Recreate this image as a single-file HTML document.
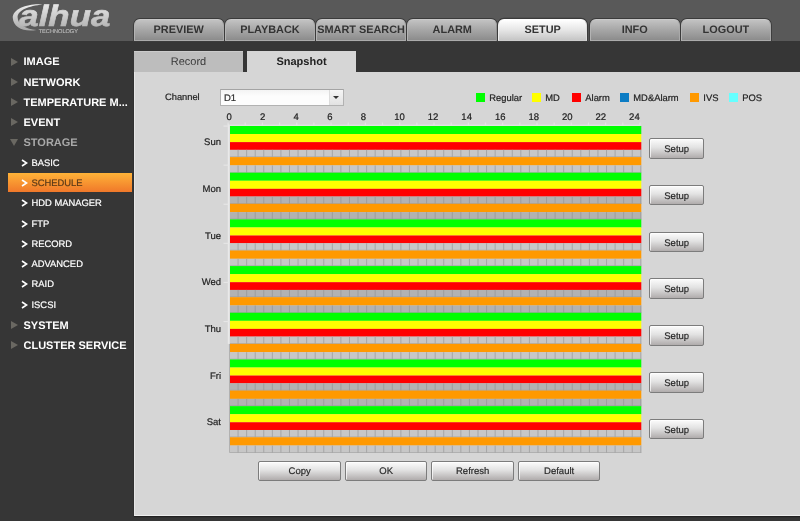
<!DOCTYPE html><html><head><meta charset="utf-8"><title>Schedule</title><style>
*{box-sizing:border-box;margin:0;padding:0}
html,body{width:800px;height:521px;overflow:hidden;background:#363636;font-family:"Liberation Sans",Arial,sans-serif;text-rendering:geometricPrecision}
.abs{position:absolute}
#hdr{position:absolute;left:0;top:0;width:800px;height:41px;background:#595959}
#side{position:absolute;left:0;top:41px;width:134px;height:480px;background:#363636}
#band{position:absolute;left:0;top:41px;width:800px;height:31px;background:#363636}
#content{position:absolute;left:134px;top:71.5px;width:666px;height:444px;background:#d6d6d6;border-bottom:1px solid #efefef;border-left:1px solid #e6e6e6;box-shadow:0 1px 1px #222}
.tab{position:absolute;top:18.6px;height:22.1px;width:90.2px;border-radius:6px 6px 0 0;background:linear-gradient(#c2c2c2,#a6a6a6 50%,#8c8c8c);border:1px solid #c9c9c9;border-left-color:#b4b4b4;border-right-color:#a9a9a9;border-bottom:1px solid #ababab;box-shadow:0 0 0 0.9px #3b3b3b;color:#333;font-weight:bold;font-size:10.9px;text-align:center;line-height:21.6px;white-space:nowrap}
.tab.sel{background:linear-gradient(#ffffff,#e6e6e6 50%,#c6c6c6);border-color:#fff;border-right-color:#ddd;border-left-color:#eee;border-bottom-color:#cdcdcd;width:88.6px;box-shadow:0 0 0 1.2px #3b3b3b}
.stab{position:absolute;top:51px;height:20.5px;font-size:11px;text-align:center;line-height:22.6px;color:#3a3a3a}
.mi{position:absolute;left:23.5px;color:#fff;font-weight:bold;font-size:11px;line-height:14px;white-space:nowrap}
.si{position:absolute;left:31.5px;color:#fff;font-size:9.4px;-webkit-text-stroke:0.2px;line-height:14px;white-space:nowrap}
.tri{position:absolute;left:11px;width:0;height:0;border-left:7px solid #6a6862;border-top:4.5px solid transparent;border-bottom:4.5px solid transparent}
.trid{position:absolute;left:10px;width:0;height:0;border-top:7px solid #6a6862;border-left:4.5px solid transparent;border-right:4.5px solid transparent}
.chev{position:absolute;left:21px;}
.btn{position:absolute;height:19.8px;border:1px solid #7c7c7c;border-radius:2px;background:linear-gradient(#fcfcfc,#e2e2e2 45%,#b0acac);font-size:9.5px;color:#2a2a2a;-webkit-text-stroke:0.2px;text-align:center;line-height:19.2px;box-shadow:inset 1px 1px 0 rgba(255,255,255,.7)}
.lbl{position:absolute;font-size:9.5px;color:#222;-webkit-text-stroke:0.2px #222;line-height:12px;white-space:nowrap}
.leg{position:absolute;top:93.2px;width:9.7px;height:8.8px}
</style></head><body>
<div id="hdr"></div><div id="side"></div><div id="band"></div><div id="content"></div>
<svg class="abs" style="left:0;top:0" width="130" height="41" viewBox="0 0 130 41">
<defs><linearGradient id="lg" x1="0" y1="0" x2="0" y2="1"><stop offset="0" stop-color="#efefef"/><stop offset="1" stop-color="#a8a8a8"/></linearGradient></defs>
<path d="M42.5 4.4 C30 3 12.3 8 12.8 18 C13.3 27.5 24 32.3 36.5 30 C26 29.2 17.6 24.5 17.6 17.3 C17.6 10 29 5.8 42.5 4.4 Z" fill="url(#lg)"/>
<text x="19.3" y="26.2" font-family="Liberation Sans, Arial, sans-serif" font-weight="bold" font-style="italic" font-size="29.5" fill="url(#lg)" stroke="url(#lg)" stroke-width="0.6" textLength="91" lengthAdjust="spacingAndGlyphs">alhua</text>
<text x="38.7" y="33.3" font-family="Liberation Sans, Arial, sans-serif" font-size="5.6" fill="#b6b6b6" stroke="#b6b6b6" stroke-width="0.15" textLength="39.3" lengthAdjust="spacingAndGlyphs">TECHNOLOGY</text>
</svg>
<div class="tab" style="left:133.6px">PREVIEW</div>
<div class="tab" style="left:224.8px">PLAYBACK</div>
<div class="tab" style="left:316.0px">SMART SEARCH</div>
<div class="tab" style="left:407.2px">ALARM</div>
<div class="tab sel" style="left:498.4px">SETUP</div>
<div class="tab" style="left:589.6px">INFO</div>
<div class="tab" style="left:680.8px">LOGOUT</div>
<div class="stab" style="left:134px;width:109px;background:#bdbdbd;box-shadow:inset 0 1px 0 #cbcbcb">Record</div>
<div class="stab" style="left:247px;width:109px;background:#d6d6d6;font-weight:bold;color:#222">Snapshot</div>
<div class="tri" style="top:57.50px"></div>
<div class="mi" style="top:55.30px">IMAGE</div>
<div class="tri" style="top:77.75px"></div>
<div class="mi" style="top:75.55px">NETWORK</div>
<div class="tri" style="top:98.00px"></div>
<div class="mi" style="top:95.80px">TEMPERATURE M...</div>
<div class="tri" style="top:118.25px"></div>
<div class="mi" style="top:116.05px">EVENT</div>
<div class="trid" style="top:139.00px"></div>
<div class="mi" style="top:136.30px;color:#a9a9a9">STORAGE</div>
<svg class="chev" style="top:158.75px" width="7" height="8" viewBox="0 0 7 8"><path d="M1 1 L5.6 4 L1 7" fill="none" stroke="#fff" stroke-width="1.6"/></svg>
<div class="si" style="top:155.75px;color:#fff">BASIC</div>
<div class="abs" style="left:7.7px;top:172.70px;width:124.8px;height:18.9px;background:linear-gradient(#ffb338,#f0782a)"></div>
<svg class="chev" style="top:179.00px" width="7" height="8" viewBox="0 0 7 8"><path d="M1 1 L5.6 4 L1 7" fill="none" stroke="#fff" stroke-width="1.6"/></svg>
<div class="si" style="top:176.00px;color:#5a3a18">SCHEDULE</div>
<svg class="chev" style="top:199.25px" width="7" height="8" viewBox="0 0 7 8"><path d="M1 1 L5.6 4 L1 7" fill="none" stroke="#fff" stroke-width="1.6"/></svg>
<div class="si" style="top:196.25px;color:#fff">HDD MANAGER</div>
<svg class="chev" style="top:219.50px" width="7" height="8" viewBox="0 0 7 8"><path d="M1 1 L5.6 4 L1 7" fill="none" stroke="#fff" stroke-width="1.6"/></svg>
<div class="si" style="top:216.50px;color:#fff">FTP</div>
<svg class="chev" style="top:239.75px" width="7" height="8" viewBox="0 0 7 8"><path d="M1 1 L5.6 4 L1 7" fill="none" stroke="#fff" stroke-width="1.6"/></svg>
<div class="si" style="top:236.75px;color:#fff">RECORD</div>
<svg class="chev" style="top:260.00px" width="7" height="8" viewBox="0 0 7 8"><path d="M1 1 L5.6 4 L1 7" fill="none" stroke="#fff" stroke-width="1.6"/></svg>
<div class="si" style="top:257.00px;color:#fff">ADVANCED</div>
<svg class="chev" style="top:280.25px" width="7" height="8" viewBox="0 0 7 8"><path d="M1 1 L5.6 4 L1 7" fill="none" stroke="#fff" stroke-width="1.6"/></svg>
<div class="si" style="top:277.25px;color:#fff">RAID</div>
<svg class="chev" style="top:300.50px" width="7" height="8" viewBox="0 0 7 8"><path d="M1 1 L5.6 4 L1 7" fill="none" stroke="#fff" stroke-width="1.6"/></svg>
<div class="si" style="top:297.50px;color:#fff">ISCSI</div>
<div class="tri" style="top:320.75px"></div>
<div class="mi" style="top:318.55px">SYSTEM</div>
<div class="tri" style="top:341.00px"></div>
<div class="mi" style="top:338.80px">CLUSTER SERVICE</div>
<div class="lbl" style="left:165px;top:91px;font-size:9.3px">Channel</div>
<div class="abs" style="left:219.6px;top:88.6px;width:124.6px;height:17px;background:linear-gradient(#f4f4f4,#fdfdfd 40%);border:1px solid #b2b2b2;border-top-color:#a4a4a4"></div>
<div class="lbl" style="left:224px;top:92.6px;color:#333">D1</div>
<div class="abs" style="left:329px;top:89.6px;width:14.2px;height:15px;background:linear-gradient(#f6f6f6,#e2e2e2);border-left:1px solid #dcdcdc"></div>
<div class="abs" style="left:333px;top:95.8px;width:0;height:0;border-top:3.5px solid #333;border-left:3px solid transparent;border-right:3px solid transparent"></div>
<div class="leg" style="left:475.7px;background:#00ff00"></div>
<div class="lbl" style="left:489.3px;top:92.3px;font-size:9.4px">Regular</div>
<div class="leg" style="left:531.7px;background:#ffff00"></div>
<div class="lbl" style="left:545.3px;top:92.3px;font-size:9.4px">MD</div>
<div class="leg" style="left:571.7px;background:#ff0000"></div>
<div class="lbl" style="left:585.3px;top:92.3px;font-size:9.4px">Alarm</div>
<div class="leg" style="left:619.7px;background:#0c7cc4"></div>
<div class="lbl" style="left:633.3px;top:92.3px;font-size:9.4px">MD&amp;Alarm</div>
<div class="leg" style="left:689.7px;background:#ff9900"></div>
<div class="lbl" style="left:703.3px;top:92.3px;font-size:9.4px">IVS</div>
<div class="leg" style="left:728.7px;background:#66ffff"></div>
<div class="lbl" style="left:742.3px;top:92.3px;font-size:9.4px">POS</div>
<div class="lbl" style="left:226.50px;top:112.4px">0</div>
<div class="lbl" style="left:260.05px;top:112.4px">2</div>
<div class="lbl" style="left:293.60px;top:112.4px">4</div>
<div class="lbl" style="left:327.15px;top:112.4px">6</div>
<div class="lbl" style="left:360.70px;top:112.4px">8</div>
<div class="lbl" style="left:394.25px;top:112.4px">10</div>
<div class="lbl" style="left:427.80px;top:112.4px">12</div>
<div class="lbl" style="left:461.35px;top:112.4px">14</div>
<div class="lbl" style="left:494.90px;top:112.4px">16</div>
<div class="lbl" style="left:528.45px;top:112.4px">18</div>
<div class="lbl" style="left:562.00px;top:112.4px">20</div>
<div class="lbl" style="left:595.55px;top:112.4px">22</div>
<div class="lbl" style="left:629.10px;top:112.4px">24</div>
<svg class="abs" style="left:222.0px;top:121.7px" width="421.3" height="332.8" viewBox="-8 -4 421.3 332.8"><rect x="-2.50" y="-3.5" width="1.2" height="2.5" fill="#e4e4e4"/><rect x="14.66" y="-3.5" width="1.2" height="2.5" fill="#e4e4e4"/><rect x="31.82" y="-3.5" width="1.2" height="2.5" fill="#e4e4e4"/><rect x="48.98" y="-3.5" width="1.2" height="2.5" fill="#e4e4e4"/><rect x="66.14" y="-3.5" width="1.2" height="2.5" fill="#e4e4e4"/><rect x="83.30" y="-3.5" width="1.2" height="2.5" fill="#e4e4e4"/><rect x="100.46" y="-3.5" width="1.2" height="2.5" fill="#e4e4e4"/><rect x="117.62" y="-3.5" width="1.2" height="2.5" fill="#e4e4e4"/><rect x="134.78" y="-3.5" width="1.2" height="2.5" fill="#e4e4e4"/><rect x="151.94" y="-3.5" width="1.2" height="2.5" fill="#e4e4e4"/><rect x="169.10" y="-3.5" width="1.2" height="2.5" fill="#e4e4e4"/><rect x="186.26" y="-3.5" width="1.2" height="2.5" fill="#e4e4e4"/><rect x="203.42" y="-3.5" width="1.2" height="2.5" fill="#e4e4e4"/><rect x="220.58" y="-3.5" width="1.2" height="2.5" fill="#e4e4e4"/><rect x="237.74" y="-3.5" width="1.2" height="2.5" fill="#e4e4e4"/><rect x="254.90" y="-3.5" width="1.2" height="2.5" fill="#e4e4e4"/><rect x="272.06" y="-3.5" width="1.2" height="2.5" fill="#e4e4e4"/><rect x="289.22" y="-3.5" width="1.2" height="2.5" fill="#e4e4e4"/><rect x="306.38" y="-3.5" width="1.2" height="2.5" fill="#e4e4e4"/><rect x="323.54" y="-3.5" width="1.2" height="2.5" fill="#e4e4e4"/><rect x="340.70" y="-3.5" width="1.2" height="2.5" fill="#e4e4e4"/><rect x="357.86" y="-3.5" width="1.2" height="2.5" fill="#e4e4e4"/><rect x="375.02" y="-3.5" width="1.2" height="2.5" fill="#e4e4e4"/><rect x="392.18" y="-3.5" width="1.2" height="2.5" fill="#e4e4e4"/><rect x="409.34" y="-3.5" width="1.2" height="2.5" fill="#e4e4e4"/><rect x="-2.2" y="-1.3" width="1.7" height="219.2" fill="#e9e9e9"/><rect x="-2.2" y="-1.3" width="412.5" height="1.1" fill="#e6e6e6"/><rect x="-0.8" y="218" width="0.9" height="108.8" fill="#a8a8a8"/><rect x="-6.5" y="-0.50" width="5" height="1.1" fill="#e6e6e6"/><rect x="-6.5" y="38.60" width="5" height="1.1" fill="#e6e6e6"/><rect x="-6.5" y="77.70" width="5" height="1.1" fill="#e6e6e6"/><rect x="-6.5" y="116.80" width="5" height="1.1" fill="#e6e6e6"/><rect x="-6.5" y="155.90" width="5" height="1.1" fill="#e6e6e6"/><rect x="-6.5" y="195.00" width="5" height="1.1" fill="#e6e6e6"/><rect x="0" y="0.00" width="411.30" height="8.11" fill="#00ff00"/><rect x="0" y="8.06" width="411.30" height="8.11" fill="#ffff00"/><rect x="0" y="16.12" width="411.30" height="7.78" fill="#ff0000"/><rect x="0" y="23.85" width="411.30" height="7.30" fill="#c7c7c7"/><rect x="7.57" y="23.85" width="1" height="7.25" fill="#a6a6a6"/><rect x="16.14" y="23.85" width="1" height="7.25" fill="#a6a6a6"/><rect x="24.71" y="23.85" width="1" height="7.25" fill="#a6a6a6"/><rect x="33.27" y="23.85" width="1" height="7.25" fill="#a6a6a6"/><rect x="41.84" y="23.85" width="1" height="7.25" fill="#a6a6a6"/><rect x="50.41" y="23.85" width="1" height="7.25" fill="#a6a6a6"/><rect x="58.98" y="23.85" width="1" height="7.25" fill="#a6a6a6"/><rect x="67.55" y="23.85" width="1" height="7.25" fill="#a6a6a6"/><rect x="76.12" y="23.85" width="1" height="7.25" fill="#a6a6a6"/><rect x="84.69" y="23.85" width="1" height="7.25" fill="#a6a6a6"/><rect x="93.26" y="23.85" width="1" height="7.25" fill="#a6a6a6"/><rect x="101.82" y="23.85" width="1" height="7.25" fill="#a6a6a6"/><rect x="110.39" y="23.85" width="1" height="7.25" fill="#a6a6a6"/><rect x="118.96" y="23.85" width="1" height="7.25" fill="#a6a6a6"/><rect x="127.53" y="23.85" width="1" height="7.25" fill="#a6a6a6"/><rect x="136.10" y="23.85" width="1" height="7.25" fill="#a6a6a6"/><rect x="144.67" y="23.85" width="1" height="7.25" fill="#a6a6a6"/><rect x="153.24" y="23.85" width="1" height="7.25" fill="#a6a6a6"/><rect x="161.81" y="23.85" width="1" height="7.25" fill="#a6a6a6"/><rect x="170.38" y="23.85" width="1" height="7.25" fill="#a6a6a6"/><rect x="178.94" y="23.85" width="1" height="7.25" fill="#a6a6a6"/><rect x="187.51" y="23.85" width="1" height="7.25" fill="#a6a6a6"/><rect x="196.08" y="23.85" width="1" height="7.25" fill="#a6a6a6"/><rect x="204.65" y="23.85" width="1" height="7.25" fill="#a6a6a6"/><rect x="213.22" y="23.85" width="1" height="7.25" fill="#a6a6a6"/><rect x="221.79" y="23.85" width="1" height="7.25" fill="#a6a6a6"/><rect x="230.36" y="23.85" width="1" height="7.25" fill="#a6a6a6"/><rect x="238.92" y="23.85" width="1" height="7.25" fill="#a6a6a6"/><rect x="247.49" y="23.85" width="1" height="7.25" fill="#a6a6a6"/><rect x="256.06" y="23.85" width="1" height="7.25" fill="#a6a6a6"/><rect x="264.63" y="23.85" width="1" height="7.25" fill="#a6a6a6"/><rect x="273.20" y="23.85" width="1" height="7.25" fill="#a6a6a6"/><rect x="281.77" y="23.85" width="1" height="7.25" fill="#a6a6a6"/><rect x="290.34" y="23.85" width="1" height="7.25" fill="#a6a6a6"/><rect x="298.91" y="23.85" width="1" height="7.25" fill="#a6a6a6"/><rect x="307.47" y="23.85" width="1" height="7.25" fill="#a6a6a6"/><rect x="316.04" y="23.85" width="1" height="7.25" fill="#a6a6a6"/><rect x="324.61" y="23.85" width="1" height="7.25" fill="#a6a6a6"/><rect x="333.18" y="23.85" width="1" height="7.25" fill="#a6a6a6"/><rect x="341.75" y="23.85" width="1" height="7.25" fill="#a6a6a6"/><rect x="350.32" y="23.85" width="1" height="7.25" fill="#a6a6a6"/><rect x="358.89" y="23.85" width="1" height="7.25" fill="#a6a6a6"/><rect x="367.46" y="23.85" width="1" height="7.25" fill="#a6a6a6"/><rect x="376.02" y="23.85" width="1" height="7.25" fill="#a6a6a6"/><rect x="384.59" y="23.85" width="1" height="7.25" fill="#a6a6a6"/><rect x="393.16" y="23.85" width="1" height="7.25" fill="#a6a6a6"/><rect x="401.73" y="23.85" width="1" height="7.25" fill="#a6a6a6"/><rect x="410.30" y="23.85" width="1" height="7.25" fill="#a6a6a6"/><rect x="0" y="30.40" width="411.30" height="0.7" fill="#a6a6a6"/><rect x="0" y="31.10" width="411.30" height="8.35" fill="#ff9900"/><rect x="0" y="39.40" width="411.30" height="7.34" fill="#c7c7c7"/><rect x="7.57" y="39.40" width="1" height="7.29" fill="#a6a6a6"/><rect x="16.14" y="39.40" width="1" height="7.29" fill="#a6a6a6"/><rect x="24.71" y="39.40" width="1" height="7.29" fill="#a6a6a6"/><rect x="33.27" y="39.40" width="1" height="7.29" fill="#a6a6a6"/><rect x="41.84" y="39.40" width="1" height="7.29" fill="#a6a6a6"/><rect x="50.41" y="39.40" width="1" height="7.29" fill="#a6a6a6"/><rect x="58.98" y="39.40" width="1" height="7.29" fill="#a6a6a6"/><rect x="67.55" y="39.40" width="1" height="7.29" fill="#a6a6a6"/><rect x="76.12" y="39.40" width="1" height="7.29" fill="#a6a6a6"/><rect x="84.69" y="39.40" width="1" height="7.29" fill="#a6a6a6"/><rect x="93.26" y="39.40" width="1" height="7.29" fill="#a6a6a6"/><rect x="101.82" y="39.40" width="1" height="7.29" fill="#a6a6a6"/><rect x="110.39" y="39.40" width="1" height="7.29" fill="#a6a6a6"/><rect x="118.96" y="39.40" width="1" height="7.29" fill="#a6a6a6"/><rect x="127.53" y="39.40" width="1" height="7.29" fill="#a6a6a6"/><rect x="136.10" y="39.40" width="1" height="7.29" fill="#a6a6a6"/><rect x="144.67" y="39.40" width="1" height="7.29" fill="#a6a6a6"/><rect x="153.24" y="39.40" width="1" height="7.29" fill="#a6a6a6"/><rect x="161.81" y="39.40" width="1" height="7.29" fill="#a6a6a6"/><rect x="170.38" y="39.40" width="1" height="7.29" fill="#a6a6a6"/><rect x="178.94" y="39.40" width="1" height="7.29" fill="#a6a6a6"/><rect x="187.51" y="39.40" width="1" height="7.29" fill="#a6a6a6"/><rect x="196.08" y="39.40" width="1" height="7.29" fill="#a6a6a6"/><rect x="204.65" y="39.40" width="1" height="7.29" fill="#a6a6a6"/><rect x="213.22" y="39.40" width="1" height="7.29" fill="#a6a6a6"/><rect x="221.79" y="39.40" width="1" height="7.29" fill="#a6a6a6"/><rect x="230.36" y="39.40" width="1" height="7.29" fill="#a6a6a6"/><rect x="238.92" y="39.40" width="1" height="7.29" fill="#a6a6a6"/><rect x="247.49" y="39.40" width="1" height="7.29" fill="#a6a6a6"/><rect x="256.06" y="39.40" width="1" height="7.29" fill="#a6a6a6"/><rect x="264.63" y="39.40" width="1" height="7.29" fill="#a6a6a6"/><rect x="273.20" y="39.40" width="1" height="7.29" fill="#a6a6a6"/><rect x="281.77" y="39.40" width="1" height="7.29" fill="#a6a6a6"/><rect x="290.34" y="39.40" width="1" height="7.29" fill="#a6a6a6"/><rect x="298.91" y="39.40" width="1" height="7.29" fill="#a6a6a6"/><rect x="307.47" y="39.40" width="1" height="7.29" fill="#a6a6a6"/><rect x="316.04" y="39.40" width="1" height="7.29" fill="#a6a6a6"/><rect x="324.61" y="39.40" width="1" height="7.29" fill="#a6a6a6"/><rect x="333.18" y="39.40" width="1" height="7.29" fill="#a6a6a6"/><rect x="341.75" y="39.40" width="1" height="7.29" fill="#a6a6a6"/><rect x="350.32" y="39.40" width="1" height="7.29" fill="#a6a6a6"/><rect x="358.89" y="39.40" width="1" height="7.29" fill="#a6a6a6"/><rect x="367.46" y="39.40" width="1" height="7.29" fill="#a6a6a6"/><rect x="376.02" y="39.40" width="1" height="7.29" fill="#a6a6a6"/><rect x="384.59" y="39.40" width="1" height="7.29" fill="#a6a6a6"/><rect x="393.16" y="39.40" width="1" height="7.29" fill="#a6a6a6"/><rect x="401.73" y="39.40" width="1" height="7.29" fill="#a6a6a6"/><rect x="410.30" y="39.40" width="1" height="7.29" fill="#a6a6a6"/><rect x="0" y="45.99" width="411.30" height="0.7" fill="#a6a6a6"/><rect x="0" y="46.69" width="411.30" height="8.11" fill="#00ff00"/><rect x="0" y="54.75" width="411.30" height="8.11" fill="#ffff00"/><rect x="0" y="62.81" width="411.30" height="7.78" fill="#ff0000"/><rect x="0" y="70.54" width="411.30" height="7.30" fill="#b2b2b2"/><rect x="7.57" y="70.54" width="1" height="7.25" fill="#9d9d9d"/><rect x="16.14" y="70.54" width="1" height="7.25" fill="#9d9d9d"/><rect x="24.71" y="70.54" width="1" height="7.25" fill="#9d9d9d"/><rect x="33.27" y="70.54" width="1" height="7.25" fill="#9d9d9d"/><rect x="41.84" y="70.54" width="1" height="7.25" fill="#9d9d9d"/><rect x="50.41" y="70.54" width="1" height="7.25" fill="#9d9d9d"/><rect x="58.98" y="70.54" width="1" height="7.25" fill="#9d9d9d"/><rect x="67.55" y="70.54" width="1" height="7.25" fill="#9d9d9d"/><rect x="76.12" y="70.54" width="1" height="7.25" fill="#9d9d9d"/><rect x="84.69" y="70.54" width="1" height="7.25" fill="#9d9d9d"/><rect x="93.26" y="70.54" width="1" height="7.25" fill="#9d9d9d"/><rect x="101.82" y="70.54" width="1" height="7.25" fill="#9d9d9d"/><rect x="110.39" y="70.54" width="1" height="7.25" fill="#9d9d9d"/><rect x="118.96" y="70.54" width="1" height="7.25" fill="#9d9d9d"/><rect x="127.53" y="70.54" width="1" height="7.25" fill="#9d9d9d"/><rect x="136.10" y="70.54" width="1" height="7.25" fill="#9d9d9d"/><rect x="144.67" y="70.54" width="1" height="7.25" fill="#9d9d9d"/><rect x="153.24" y="70.54" width="1" height="7.25" fill="#9d9d9d"/><rect x="161.81" y="70.54" width="1" height="7.25" fill="#9d9d9d"/><rect x="170.38" y="70.54" width="1" height="7.25" fill="#9d9d9d"/><rect x="178.94" y="70.54" width="1" height="7.25" fill="#9d9d9d"/><rect x="187.51" y="70.54" width="1" height="7.25" fill="#9d9d9d"/><rect x="196.08" y="70.54" width="1" height="7.25" fill="#9d9d9d"/><rect x="204.65" y="70.54" width="1" height="7.25" fill="#9d9d9d"/><rect x="213.22" y="70.54" width="1" height="7.25" fill="#9d9d9d"/><rect x="221.79" y="70.54" width="1" height="7.25" fill="#9d9d9d"/><rect x="230.36" y="70.54" width="1" height="7.25" fill="#9d9d9d"/><rect x="238.92" y="70.54" width="1" height="7.25" fill="#9d9d9d"/><rect x="247.49" y="70.54" width="1" height="7.25" fill="#9d9d9d"/><rect x="256.06" y="70.54" width="1" height="7.25" fill="#9d9d9d"/><rect x="264.63" y="70.54" width="1" height="7.25" fill="#9d9d9d"/><rect x="273.20" y="70.54" width="1" height="7.25" fill="#9d9d9d"/><rect x="281.77" y="70.54" width="1" height="7.25" fill="#9d9d9d"/><rect x="290.34" y="70.54" width="1" height="7.25" fill="#9d9d9d"/><rect x="298.91" y="70.54" width="1" height="7.25" fill="#9d9d9d"/><rect x="307.47" y="70.54" width="1" height="7.25" fill="#9d9d9d"/><rect x="316.04" y="70.54" width="1" height="7.25" fill="#9d9d9d"/><rect x="324.61" y="70.54" width="1" height="7.25" fill="#9d9d9d"/><rect x="333.18" y="70.54" width="1" height="7.25" fill="#9d9d9d"/><rect x="341.75" y="70.54" width="1" height="7.25" fill="#9d9d9d"/><rect x="350.32" y="70.54" width="1" height="7.25" fill="#9d9d9d"/><rect x="358.89" y="70.54" width="1" height="7.25" fill="#9d9d9d"/><rect x="367.46" y="70.54" width="1" height="7.25" fill="#9d9d9d"/><rect x="376.02" y="70.54" width="1" height="7.25" fill="#9d9d9d"/><rect x="384.59" y="70.54" width="1" height="7.25" fill="#9d9d9d"/><rect x="393.16" y="70.54" width="1" height="7.25" fill="#9d9d9d"/><rect x="401.73" y="70.54" width="1" height="7.25" fill="#9d9d9d"/><rect x="410.30" y="70.54" width="1" height="7.25" fill="#9d9d9d"/><rect x="0" y="77.09" width="411.30" height="0.7" fill="#9d9d9d"/><rect x="0" y="77.79" width="411.30" height="8.35" fill="#ff9900"/><rect x="0" y="86.09" width="411.30" height="7.34" fill="#b2b2b2"/><rect x="7.57" y="86.09" width="1" height="7.29" fill="#9d9d9d"/><rect x="16.14" y="86.09" width="1" height="7.29" fill="#9d9d9d"/><rect x="24.71" y="86.09" width="1" height="7.29" fill="#9d9d9d"/><rect x="33.27" y="86.09" width="1" height="7.29" fill="#9d9d9d"/><rect x="41.84" y="86.09" width="1" height="7.29" fill="#9d9d9d"/><rect x="50.41" y="86.09" width="1" height="7.29" fill="#9d9d9d"/><rect x="58.98" y="86.09" width="1" height="7.29" fill="#9d9d9d"/><rect x="67.55" y="86.09" width="1" height="7.29" fill="#9d9d9d"/><rect x="76.12" y="86.09" width="1" height="7.29" fill="#9d9d9d"/><rect x="84.69" y="86.09" width="1" height="7.29" fill="#9d9d9d"/><rect x="93.26" y="86.09" width="1" height="7.29" fill="#9d9d9d"/><rect x="101.82" y="86.09" width="1" height="7.29" fill="#9d9d9d"/><rect x="110.39" y="86.09" width="1" height="7.29" fill="#9d9d9d"/><rect x="118.96" y="86.09" width="1" height="7.29" fill="#9d9d9d"/><rect x="127.53" y="86.09" width="1" height="7.29" fill="#9d9d9d"/><rect x="136.10" y="86.09" width="1" height="7.29" fill="#9d9d9d"/><rect x="144.67" y="86.09" width="1" height="7.29" fill="#9d9d9d"/><rect x="153.24" y="86.09" width="1" height="7.29" fill="#9d9d9d"/><rect x="161.81" y="86.09" width="1" height="7.29" fill="#9d9d9d"/><rect x="170.38" y="86.09" width="1" height="7.29" fill="#9d9d9d"/><rect x="178.94" y="86.09" width="1" height="7.29" fill="#9d9d9d"/><rect x="187.51" y="86.09" width="1" height="7.29" fill="#9d9d9d"/><rect x="196.08" y="86.09" width="1" height="7.29" fill="#9d9d9d"/><rect x="204.65" y="86.09" width="1" height="7.29" fill="#9d9d9d"/><rect x="213.22" y="86.09" width="1" height="7.29" fill="#9d9d9d"/><rect x="221.79" y="86.09" width="1" height="7.29" fill="#9d9d9d"/><rect x="230.36" y="86.09" width="1" height="7.29" fill="#9d9d9d"/><rect x="238.92" y="86.09" width="1" height="7.29" fill="#9d9d9d"/><rect x="247.49" y="86.09" width="1" height="7.29" fill="#9d9d9d"/><rect x="256.06" y="86.09" width="1" height="7.29" fill="#9d9d9d"/><rect x="264.63" y="86.09" width="1" height="7.29" fill="#9d9d9d"/><rect x="273.20" y="86.09" width="1" height="7.29" fill="#9d9d9d"/><rect x="281.77" y="86.09" width="1" height="7.29" fill="#9d9d9d"/><rect x="290.34" y="86.09" width="1" height="7.29" fill="#9d9d9d"/><rect x="298.91" y="86.09" width="1" height="7.29" fill="#9d9d9d"/><rect x="307.47" y="86.09" width="1" height="7.29" fill="#9d9d9d"/><rect x="316.04" y="86.09" width="1" height="7.29" fill="#9d9d9d"/><rect x="324.61" y="86.09" width="1" height="7.29" fill="#9d9d9d"/><rect x="333.18" y="86.09" width="1" height="7.29" fill="#9d9d9d"/><rect x="341.75" y="86.09" width="1" height="7.29" fill="#9d9d9d"/><rect x="350.32" y="86.09" width="1" height="7.29" fill="#9d9d9d"/><rect x="358.89" y="86.09" width="1" height="7.29" fill="#9d9d9d"/><rect x="367.46" y="86.09" width="1" height="7.29" fill="#9d9d9d"/><rect x="376.02" y="86.09" width="1" height="7.29" fill="#9d9d9d"/><rect x="384.59" y="86.09" width="1" height="7.29" fill="#9d9d9d"/><rect x="393.16" y="86.09" width="1" height="7.29" fill="#9d9d9d"/><rect x="401.73" y="86.09" width="1" height="7.29" fill="#9d9d9d"/><rect x="410.30" y="86.09" width="1" height="7.29" fill="#9d9d9d"/><rect x="0" y="92.68" width="411.30" height="0.7" fill="#9d9d9d"/><rect x="0" y="93.38" width="411.30" height="8.11" fill="#00ff00"/><rect x="0" y="101.44" width="411.30" height="8.11" fill="#ffff00"/><rect x="0" y="109.50" width="411.30" height="7.78" fill="#ff0000"/><rect x="0" y="117.23" width="411.30" height="7.30" fill="#c7c7c7"/><rect x="7.57" y="117.23" width="1" height="7.25" fill="#a6a6a6"/><rect x="16.14" y="117.23" width="1" height="7.25" fill="#a6a6a6"/><rect x="24.71" y="117.23" width="1" height="7.25" fill="#a6a6a6"/><rect x="33.27" y="117.23" width="1" height="7.25" fill="#a6a6a6"/><rect x="41.84" y="117.23" width="1" height="7.25" fill="#a6a6a6"/><rect x="50.41" y="117.23" width="1" height="7.25" fill="#a6a6a6"/><rect x="58.98" y="117.23" width="1" height="7.25" fill="#a6a6a6"/><rect x="67.55" y="117.23" width="1" height="7.25" fill="#a6a6a6"/><rect x="76.12" y="117.23" width="1" height="7.25" fill="#a6a6a6"/><rect x="84.69" y="117.23" width="1" height="7.25" fill="#a6a6a6"/><rect x="93.26" y="117.23" width="1" height="7.25" fill="#a6a6a6"/><rect x="101.82" y="117.23" width="1" height="7.25" fill="#a6a6a6"/><rect x="110.39" y="117.23" width="1" height="7.25" fill="#a6a6a6"/><rect x="118.96" y="117.23" width="1" height="7.25" fill="#a6a6a6"/><rect x="127.53" y="117.23" width="1" height="7.25" fill="#a6a6a6"/><rect x="136.10" y="117.23" width="1" height="7.25" fill="#a6a6a6"/><rect x="144.67" y="117.23" width="1" height="7.25" fill="#a6a6a6"/><rect x="153.24" y="117.23" width="1" height="7.25" fill="#a6a6a6"/><rect x="161.81" y="117.23" width="1" height="7.25" fill="#a6a6a6"/><rect x="170.38" y="117.23" width="1" height="7.25" fill="#a6a6a6"/><rect x="178.94" y="117.23" width="1" height="7.25" fill="#a6a6a6"/><rect x="187.51" y="117.23" width="1" height="7.25" fill="#a6a6a6"/><rect x="196.08" y="117.23" width="1" height="7.25" fill="#a6a6a6"/><rect x="204.65" y="117.23" width="1" height="7.25" fill="#a6a6a6"/><rect x="213.22" y="117.23" width="1" height="7.25" fill="#a6a6a6"/><rect x="221.79" y="117.23" width="1" height="7.25" fill="#a6a6a6"/><rect x="230.36" y="117.23" width="1" height="7.25" fill="#a6a6a6"/><rect x="238.92" y="117.23" width="1" height="7.25" fill="#a6a6a6"/><rect x="247.49" y="117.23" width="1" height="7.25" fill="#a6a6a6"/><rect x="256.06" y="117.23" width="1" height="7.25" fill="#a6a6a6"/><rect x="264.63" y="117.23" width="1" height="7.25" fill="#a6a6a6"/><rect x="273.20" y="117.23" width="1" height="7.25" fill="#a6a6a6"/><rect x="281.77" y="117.23" width="1" height="7.25" fill="#a6a6a6"/><rect x="290.34" y="117.23" width="1" height="7.25" fill="#a6a6a6"/><rect x="298.91" y="117.23" width="1" height="7.25" fill="#a6a6a6"/><rect x="307.47" y="117.23" width="1" height="7.25" fill="#a6a6a6"/><rect x="316.04" y="117.23" width="1" height="7.25" fill="#a6a6a6"/><rect x="324.61" y="117.23" width="1" height="7.25" fill="#a6a6a6"/><rect x="333.18" y="117.23" width="1" height="7.25" fill="#a6a6a6"/><rect x="341.75" y="117.23" width="1" height="7.25" fill="#a6a6a6"/><rect x="350.32" y="117.23" width="1" height="7.25" fill="#a6a6a6"/><rect x="358.89" y="117.23" width="1" height="7.25" fill="#a6a6a6"/><rect x="367.46" y="117.23" width="1" height="7.25" fill="#a6a6a6"/><rect x="376.02" y="117.23" width="1" height="7.25" fill="#a6a6a6"/><rect x="384.59" y="117.23" width="1" height="7.25" fill="#a6a6a6"/><rect x="393.16" y="117.23" width="1" height="7.25" fill="#a6a6a6"/><rect x="401.73" y="117.23" width="1" height="7.25" fill="#a6a6a6"/><rect x="410.30" y="117.23" width="1" height="7.25" fill="#a6a6a6"/><rect x="0" y="123.78" width="411.30" height="0.7" fill="#a6a6a6"/><rect x="0" y="124.48" width="411.30" height="8.35" fill="#ff9900"/><rect x="0" y="132.78" width="411.30" height="7.34" fill="#c7c7c7"/><rect x="7.57" y="132.78" width="1" height="7.29" fill="#a6a6a6"/><rect x="16.14" y="132.78" width="1" height="7.29" fill="#a6a6a6"/><rect x="24.71" y="132.78" width="1" height="7.29" fill="#a6a6a6"/><rect x="33.27" y="132.78" width="1" height="7.29" fill="#a6a6a6"/><rect x="41.84" y="132.78" width="1" height="7.29" fill="#a6a6a6"/><rect x="50.41" y="132.78" width="1" height="7.29" fill="#a6a6a6"/><rect x="58.98" y="132.78" width="1" height="7.29" fill="#a6a6a6"/><rect x="67.55" y="132.78" width="1" height="7.29" fill="#a6a6a6"/><rect x="76.12" y="132.78" width="1" height="7.29" fill="#a6a6a6"/><rect x="84.69" y="132.78" width="1" height="7.29" fill="#a6a6a6"/><rect x="93.26" y="132.78" width="1" height="7.29" fill="#a6a6a6"/><rect x="101.82" y="132.78" width="1" height="7.29" fill="#a6a6a6"/><rect x="110.39" y="132.78" width="1" height="7.29" fill="#a6a6a6"/><rect x="118.96" y="132.78" width="1" height="7.29" fill="#a6a6a6"/><rect x="127.53" y="132.78" width="1" height="7.29" fill="#a6a6a6"/><rect x="136.10" y="132.78" width="1" height="7.29" fill="#a6a6a6"/><rect x="144.67" y="132.78" width="1" height="7.29" fill="#a6a6a6"/><rect x="153.24" y="132.78" width="1" height="7.29" fill="#a6a6a6"/><rect x="161.81" y="132.78" width="1" height="7.29" fill="#a6a6a6"/><rect x="170.38" y="132.78" width="1" height="7.29" fill="#a6a6a6"/><rect x="178.94" y="132.78" width="1" height="7.29" fill="#a6a6a6"/><rect x="187.51" y="132.78" width="1" height="7.29" fill="#a6a6a6"/><rect x="196.08" y="132.78" width="1" height="7.29" fill="#a6a6a6"/><rect x="204.65" y="132.78" width="1" height="7.29" fill="#a6a6a6"/><rect x="213.22" y="132.78" width="1" height="7.29" fill="#a6a6a6"/><rect x="221.79" y="132.78" width="1" height="7.29" fill="#a6a6a6"/><rect x="230.36" y="132.78" width="1" height="7.29" fill="#a6a6a6"/><rect x="238.92" y="132.78" width="1" height="7.29" fill="#a6a6a6"/><rect x="247.49" y="132.78" width="1" height="7.29" fill="#a6a6a6"/><rect x="256.06" y="132.78" width="1" height="7.29" fill="#a6a6a6"/><rect x="264.63" y="132.78" width="1" height="7.29" fill="#a6a6a6"/><rect x="273.20" y="132.78" width="1" height="7.29" fill="#a6a6a6"/><rect x="281.77" y="132.78" width="1" height="7.29" fill="#a6a6a6"/><rect x="290.34" y="132.78" width="1" height="7.29" fill="#a6a6a6"/><rect x="298.91" y="132.78" width="1" height="7.29" fill="#a6a6a6"/><rect x="307.47" y="132.78" width="1" height="7.29" fill="#a6a6a6"/><rect x="316.04" y="132.78" width="1" height="7.29" fill="#a6a6a6"/><rect x="324.61" y="132.78" width="1" height="7.29" fill="#a6a6a6"/><rect x="333.18" y="132.78" width="1" height="7.29" fill="#a6a6a6"/><rect x="341.75" y="132.78" width="1" height="7.29" fill="#a6a6a6"/><rect x="350.32" y="132.78" width="1" height="7.29" fill="#a6a6a6"/><rect x="358.89" y="132.78" width="1" height="7.29" fill="#a6a6a6"/><rect x="367.46" y="132.78" width="1" height="7.29" fill="#a6a6a6"/><rect x="376.02" y="132.78" width="1" height="7.29" fill="#a6a6a6"/><rect x="384.59" y="132.78" width="1" height="7.29" fill="#a6a6a6"/><rect x="393.16" y="132.78" width="1" height="7.29" fill="#a6a6a6"/><rect x="401.73" y="132.78" width="1" height="7.29" fill="#a6a6a6"/><rect x="410.30" y="132.78" width="1" height="7.29" fill="#a6a6a6"/><rect x="0" y="139.37" width="411.30" height="0.7" fill="#a6a6a6"/><rect x="0" y="140.07" width="411.30" height="8.11" fill="#00ff00"/><rect x="0" y="148.13" width="411.30" height="8.11" fill="#ffff00"/><rect x="0" y="156.19" width="411.30" height="7.78" fill="#ff0000"/><rect x="0" y="163.92" width="411.30" height="7.30" fill="#b2b2b2"/><rect x="7.57" y="163.92" width="1" height="7.25" fill="#9d9d9d"/><rect x="16.14" y="163.92" width="1" height="7.25" fill="#9d9d9d"/><rect x="24.71" y="163.92" width="1" height="7.25" fill="#9d9d9d"/><rect x="33.27" y="163.92" width="1" height="7.25" fill="#9d9d9d"/><rect x="41.84" y="163.92" width="1" height="7.25" fill="#9d9d9d"/><rect x="50.41" y="163.92" width="1" height="7.25" fill="#9d9d9d"/><rect x="58.98" y="163.92" width="1" height="7.25" fill="#9d9d9d"/><rect x="67.55" y="163.92" width="1" height="7.25" fill="#9d9d9d"/><rect x="76.12" y="163.92" width="1" height="7.25" fill="#9d9d9d"/><rect x="84.69" y="163.92" width="1" height="7.25" fill="#9d9d9d"/><rect x="93.26" y="163.92" width="1" height="7.25" fill="#9d9d9d"/><rect x="101.82" y="163.92" width="1" height="7.25" fill="#9d9d9d"/><rect x="110.39" y="163.92" width="1" height="7.25" fill="#9d9d9d"/><rect x="118.96" y="163.92" width="1" height="7.25" fill="#9d9d9d"/><rect x="127.53" y="163.92" width="1" height="7.25" fill="#9d9d9d"/><rect x="136.10" y="163.92" width="1" height="7.25" fill="#9d9d9d"/><rect x="144.67" y="163.92" width="1" height="7.25" fill="#9d9d9d"/><rect x="153.24" y="163.92" width="1" height="7.25" fill="#9d9d9d"/><rect x="161.81" y="163.92" width="1" height="7.25" fill="#9d9d9d"/><rect x="170.38" y="163.92" width="1" height="7.25" fill="#9d9d9d"/><rect x="178.94" y="163.92" width="1" height="7.25" fill="#9d9d9d"/><rect x="187.51" y="163.92" width="1" height="7.25" fill="#9d9d9d"/><rect x="196.08" y="163.92" width="1" height="7.25" fill="#9d9d9d"/><rect x="204.65" y="163.92" width="1" height="7.25" fill="#9d9d9d"/><rect x="213.22" y="163.92" width="1" height="7.25" fill="#9d9d9d"/><rect x="221.79" y="163.92" width="1" height="7.25" fill="#9d9d9d"/><rect x="230.36" y="163.92" width="1" height="7.25" fill="#9d9d9d"/><rect x="238.92" y="163.92" width="1" height="7.25" fill="#9d9d9d"/><rect x="247.49" y="163.92" width="1" height="7.25" fill="#9d9d9d"/><rect x="256.06" y="163.92" width="1" height="7.25" fill="#9d9d9d"/><rect x="264.63" y="163.92" width="1" height="7.25" fill="#9d9d9d"/><rect x="273.20" y="163.92" width="1" height="7.25" fill="#9d9d9d"/><rect x="281.77" y="163.92" width="1" height="7.25" fill="#9d9d9d"/><rect x="290.34" y="163.92" width="1" height="7.25" fill="#9d9d9d"/><rect x="298.91" y="163.92" width="1" height="7.25" fill="#9d9d9d"/><rect x="307.47" y="163.92" width="1" height="7.25" fill="#9d9d9d"/><rect x="316.04" y="163.92" width="1" height="7.25" fill="#9d9d9d"/><rect x="324.61" y="163.92" width="1" height="7.25" fill="#9d9d9d"/><rect x="333.18" y="163.92" width="1" height="7.25" fill="#9d9d9d"/><rect x="341.75" y="163.92" width="1" height="7.25" fill="#9d9d9d"/><rect x="350.32" y="163.92" width="1" height="7.25" fill="#9d9d9d"/><rect x="358.89" y="163.92" width="1" height="7.25" fill="#9d9d9d"/><rect x="367.46" y="163.92" width="1" height="7.25" fill="#9d9d9d"/><rect x="376.02" y="163.92" width="1" height="7.25" fill="#9d9d9d"/><rect x="384.59" y="163.92" width="1" height="7.25" fill="#9d9d9d"/><rect x="393.16" y="163.92" width="1" height="7.25" fill="#9d9d9d"/><rect x="401.73" y="163.92" width="1" height="7.25" fill="#9d9d9d"/><rect x="410.30" y="163.92" width="1" height="7.25" fill="#9d9d9d"/><rect x="0" y="170.47" width="411.30" height="0.7" fill="#9d9d9d"/><rect x="0" y="171.17" width="411.30" height="8.35" fill="#ff9900"/><rect x="0" y="179.47" width="411.30" height="7.34" fill="#b2b2b2"/><rect x="7.57" y="179.47" width="1" height="7.29" fill="#9d9d9d"/><rect x="16.14" y="179.47" width="1" height="7.29" fill="#9d9d9d"/><rect x="24.71" y="179.47" width="1" height="7.29" fill="#9d9d9d"/><rect x="33.27" y="179.47" width="1" height="7.29" fill="#9d9d9d"/><rect x="41.84" y="179.47" width="1" height="7.29" fill="#9d9d9d"/><rect x="50.41" y="179.47" width="1" height="7.29" fill="#9d9d9d"/><rect x="58.98" y="179.47" width="1" height="7.29" fill="#9d9d9d"/><rect x="67.55" y="179.47" width="1" height="7.29" fill="#9d9d9d"/><rect x="76.12" y="179.47" width="1" height="7.29" fill="#9d9d9d"/><rect x="84.69" y="179.47" width="1" height="7.29" fill="#9d9d9d"/><rect x="93.26" y="179.47" width="1" height="7.29" fill="#9d9d9d"/><rect x="101.82" y="179.47" width="1" height="7.29" fill="#9d9d9d"/><rect x="110.39" y="179.47" width="1" height="7.29" fill="#9d9d9d"/><rect x="118.96" y="179.47" width="1" height="7.29" fill="#9d9d9d"/><rect x="127.53" y="179.47" width="1" height="7.29" fill="#9d9d9d"/><rect x="136.10" y="179.47" width="1" height="7.29" fill="#9d9d9d"/><rect x="144.67" y="179.47" width="1" height="7.29" fill="#9d9d9d"/><rect x="153.24" y="179.47" width="1" height="7.29" fill="#9d9d9d"/><rect x="161.81" y="179.47" width="1" height="7.29" fill="#9d9d9d"/><rect x="170.38" y="179.47" width="1" height="7.29" fill="#9d9d9d"/><rect x="178.94" y="179.47" width="1" height="7.29" fill="#9d9d9d"/><rect x="187.51" y="179.47" width="1" height="7.29" fill="#9d9d9d"/><rect x="196.08" y="179.47" width="1" height="7.29" fill="#9d9d9d"/><rect x="204.65" y="179.47" width="1" height="7.29" fill="#9d9d9d"/><rect x="213.22" y="179.47" width="1" height="7.29" fill="#9d9d9d"/><rect x="221.79" y="179.47" width="1" height="7.29" fill="#9d9d9d"/><rect x="230.36" y="179.47" width="1" height="7.29" fill="#9d9d9d"/><rect x="238.92" y="179.47" width="1" height="7.29" fill="#9d9d9d"/><rect x="247.49" y="179.47" width="1" height="7.29" fill="#9d9d9d"/><rect x="256.06" y="179.47" width="1" height="7.29" fill="#9d9d9d"/><rect x="264.63" y="179.47" width="1" height="7.29" fill="#9d9d9d"/><rect x="273.20" y="179.47" width="1" height="7.29" fill="#9d9d9d"/><rect x="281.77" y="179.47" width="1" height="7.29" fill="#9d9d9d"/><rect x="290.34" y="179.47" width="1" height="7.29" fill="#9d9d9d"/><rect x="298.91" y="179.47" width="1" height="7.29" fill="#9d9d9d"/><rect x="307.47" y="179.47" width="1" height="7.29" fill="#9d9d9d"/><rect x="316.04" y="179.47" width="1" height="7.29" fill="#9d9d9d"/><rect x="324.61" y="179.47" width="1" height="7.29" fill="#9d9d9d"/><rect x="333.18" y="179.47" width="1" height="7.29" fill="#9d9d9d"/><rect x="341.75" y="179.47" width="1" height="7.29" fill="#9d9d9d"/><rect x="350.32" y="179.47" width="1" height="7.29" fill="#9d9d9d"/><rect x="358.89" y="179.47" width="1" height="7.29" fill="#9d9d9d"/><rect x="367.46" y="179.47" width="1" height="7.29" fill="#9d9d9d"/><rect x="376.02" y="179.47" width="1" height="7.29" fill="#9d9d9d"/><rect x="384.59" y="179.47" width="1" height="7.29" fill="#9d9d9d"/><rect x="393.16" y="179.47" width="1" height="7.29" fill="#9d9d9d"/><rect x="401.73" y="179.47" width="1" height="7.29" fill="#9d9d9d"/><rect x="410.30" y="179.47" width="1" height="7.29" fill="#9d9d9d"/><rect x="0" y="186.06" width="411.30" height="0.7" fill="#9d9d9d"/><rect x="0" y="186.76" width="411.30" height="8.11" fill="#00ff00"/><rect x="0" y="194.82" width="411.30" height="8.11" fill="#ffff00"/><rect x="0" y="202.88" width="411.30" height="7.78" fill="#ff0000"/><rect x="0" y="210.61" width="411.30" height="7.30" fill="#c7c7c7"/><rect x="7.57" y="210.61" width="1" height="7.25" fill="#a6a6a6"/><rect x="16.14" y="210.61" width="1" height="7.25" fill="#a6a6a6"/><rect x="24.71" y="210.61" width="1" height="7.25" fill="#a6a6a6"/><rect x="33.27" y="210.61" width="1" height="7.25" fill="#a6a6a6"/><rect x="41.84" y="210.61" width="1" height="7.25" fill="#a6a6a6"/><rect x="50.41" y="210.61" width="1" height="7.25" fill="#a6a6a6"/><rect x="58.98" y="210.61" width="1" height="7.25" fill="#a6a6a6"/><rect x="67.55" y="210.61" width="1" height="7.25" fill="#a6a6a6"/><rect x="76.12" y="210.61" width="1" height="7.25" fill="#a6a6a6"/><rect x="84.69" y="210.61" width="1" height="7.25" fill="#a6a6a6"/><rect x="93.26" y="210.61" width="1" height="7.25" fill="#a6a6a6"/><rect x="101.82" y="210.61" width="1" height="7.25" fill="#a6a6a6"/><rect x="110.39" y="210.61" width="1" height="7.25" fill="#a6a6a6"/><rect x="118.96" y="210.61" width="1" height="7.25" fill="#a6a6a6"/><rect x="127.53" y="210.61" width="1" height="7.25" fill="#a6a6a6"/><rect x="136.10" y="210.61" width="1" height="7.25" fill="#a6a6a6"/><rect x="144.67" y="210.61" width="1" height="7.25" fill="#a6a6a6"/><rect x="153.24" y="210.61" width="1" height="7.25" fill="#a6a6a6"/><rect x="161.81" y="210.61" width="1" height="7.25" fill="#a6a6a6"/><rect x="170.38" y="210.61" width="1" height="7.25" fill="#a6a6a6"/><rect x="178.94" y="210.61" width="1" height="7.25" fill="#a6a6a6"/><rect x="187.51" y="210.61" width="1" height="7.25" fill="#a6a6a6"/><rect x="196.08" y="210.61" width="1" height="7.25" fill="#a6a6a6"/><rect x="204.65" y="210.61" width="1" height="7.25" fill="#a6a6a6"/><rect x="213.22" y="210.61" width="1" height="7.25" fill="#a6a6a6"/><rect x="221.79" y="210.61" width="1" height="7.25" fill="#a6a6a6"/><rect x="230.36" y="210.61" width="1" height="7.25" fill="#a6a6a6"/><rect x="238.92" y="210.61" width="1" height="7.25" fill="#a6a6a6"/><rect x="247.49" y="210.61" width="1" height="7.25" fill="#a6a6a6"/><rect x="256.06" y="210.61" width="1" height="7.25" fill="#a6a6a6"/><rect x="264.63" y="210.61" width="1" height="7.25" fill="#a6a6a6"/><rect x="273.20" y="210.61" width="1" height="7.25" fill="#a6a6a6"/><rect x="281.77" y="210.61" width="1" height="7.25" fill="#a6a6a6"/><rect x="290.34" y="210.61" width="1" height="7.25" fill="#a6a6a6"/><rect x="298.91" y="210.61" width="1" height="7.25" fill="#a6a6a6"/><rect x="307.47" y="210.61" width="1" height="7.25" fill="#a6a6a6"/><rect x="316.04" y="210.61" width="1" height="7.25" fill="#a6a6a6"/><rect x="324.61" y="210.61" width="1" height="7.25" fill="#a6a6a6"/><rect x="333.18" y="210.61" width="1" height="7.25" fill="#a6a6a6"/><rect x="341.75" y="210.61" width="1" height="7.25" fill="#a6a6a6"/><rect x="350.32" y="210.61" width="1" height="7.25" fill="#a6a6a6"/><rect x="358.89" y="210.61" width="1" height="7.25" fill="#a6a6a6"/><rect x="367.46" y="210.61" width="1" height="7.25" fill="#a6a6a6"/><rect x="376.02" y="210.61" width="1" height="7.25" fill="#a6a6a6"/><rect x="384.59" y="210.61" width="1" height="7.25" fill="#a6a6a6"/><rect x="393.16" y="210.61" width="1" height="7.25" fill="#a6a6a6"/><rect x="401.73" y="210.61" width="1" height="7.25" fill="#a6a6a6"/><rect x="410.30" y="210.61" width="1" height="7.25" fill="#a6a6a6"/><rect x="0" y="217.16" width="411.30" height="0.7" fill="#a6a6a6"/><rect x="0" y="217.86" width="411.30" height="8.35" fill="#ff9900"/><rect x="0" y="226.16" width="411.30" height="7.34" fill="#c7c7c7"/><rect x="7.57" y="226.16" width="1" height="7.29" fill="#a6a6a6"/><rect x="16.14" y="226.16" width="1" height="7.29" fill="#a6a6a6"/><rect x="24.71" y="226.16" width="1" height="7.29" fill="#a6a6a6"/><rect x="33.27" y="226.16" width="1" height="7.29" fill="#a6a6a6"/><rect x="41.84" y="226.16" width="1" height="7.29" fill="#a6a6a6"/><rect x="50.41" y="226.16" width="1" height="7.29" fill="#a6a6a6"/><rect x="58.98" y="226.16" width="1" height="7.29" fill="#a6a6a6"/><rect x="67.55" y="226.16" width="1" height="7.29" fill="#a6a6a6"/><rect x="76.12" y="226.16" width="1" height="7.29" fill="#a6a6a6"/><rect x="84.69" y="226.16" width="1" height="7.29" fill="#a6a6a6"/><rect x="93.26" y="226.16" width="1" height="7.29" fill="#a6a6a6"/><rect x="101.82" y="226.16" width="1" height="7.29" fill="#a6a6a6"/><rect x="110.39" y="226.16" width="1" height="7.29" fill="#a6a6a6"/><rect x="118.96" y="226.16" width="1" height="7.29" fill="#a6a6a6"/><rect x="127.53" y="226.16" width="1" height="7.29" fill="#a6a6a6"/><rect x="136.10" y="226.16" width="1" height="7.29" fill="#a6a6a6"/><rect x="144.67" y="226.16" width="1" height="7.29" fill="#a6a6a6"/><rect x="153.24" y="226.16" width="1" height="7.29" fill="#a6a6a6"/><rect x="161.81" y="226.16" width="1" height="7.29" fill="#a6a6a6"/><rect x="170.38" y="226.16" width="1" height="7.29" fill="#a6a6a6"/><rect x="178.94" y="226.16" width="1" height="7.29" fill="#a6a6a6"/><rect x="187.51" y="226.16" width="1" height="7.29" fill="#a6a6a6"/><rect x="196.08" y="226.16" width="1" height="7.29" fill="#a6a6a6"/><rect x="204.65" y="226.16" width="1" height="7.29" fill="#a6a6a6"/><rect x="213.22" y="226.16" width="1" height="7.29" fill="#a6a6a6"/><rect x="221.79" y="226.16" width="1" height="7.29" fill="#a6a6a6"/><rect x="230.36" y="226.16" width="1" height="7.29" fill="#a6a6a6"/><rect x="238.92" y="226.16" width="1" height="7.29" fill="#a6a6a6"/><rect x="247.49" y="226.16" width="1" height="7.29" fill="#a6a6a6"/><rect x="256.06" y="226.16" width="1" height="7.29" fill="#a6a6a6"/><rect x="264.63" y="226.16" width="1" height="7.29" fill="#a6a6a6"/><rect x="273.20" y="226.16" width="1" height="7.29" fill="#a6a6a6"/><rect x="281.77" y="226.16" width="1" height="7.29" fill="#a6a6a6"/><rect x="290.34" y="226.16" width="1" height="7.29" fill="#a6a6a6"/><rect x="298.91" y="226.16" width="1" height="7.29" fill="#a6a6a6"/><rect x="307.47" y="226.16" width="1" height="7.29" fill="#a6a6a6"/><rect x="316.04" y="226.16" width="1" height="7.29" fill="#a6a6a6"/><rect x="324.61" y="226.16" width="1" height="7.29" fill="#a6a6a6"/><rect x="333.18" y="226.16" width="1" height="7.29" fill="#a6a6a6"/><rect x="341.75" y="226.16" width="1" height="7.29" fill="#a6a6a6"/><rect x="350.32" y="226.16" width="1" height="7.29" fill="#a6a6a6"/><rect x="358.89" y="226.16" width="1" height="7.29" fill="#a6a6a6"/><rect x="367.46" y="226.16" width="1" height="7.29" fill="#a6a6a6"/><rect x="376.02" y="226.16" width="1" height="7.29" fill="#a6a6a6"/><rect x="384.59" y="226.16" width="1" height="7.29" fill="#a6a6a6"/><rect x="393.16" y="226.16" width="1" height="7.29" fill="#a6a6a6"/><rect x="401.73" y="226.16" width="1" height="7.29" fill="#a6a6a6"/><rect x="410.30" y="226.16" width="1" height="7.29" fill="#a6a6a6"/><rect x="0" y="232.75" width="411.30" height="0.7" fill="#a6a6a6"/><rect x="0" y="233.45" width="411.30" height="8.11" fill="#00ff00"/><rect x="0" y="241.51" width="411.30" height="8.11" fill="#ffff00"/><rect x="0" y="249.57" width="411.30" height="7.78" fill="#ff0000"/><rect x="0" y="257.30" width="411.30" height="7.30" fill="#b2b2b2"/><rect x="7.57" y="257.30" width="1" height="7.25" fill="#9d9d9d"/><rect x="16.14" y="257.30" width="1" height="7.25" fill="#9d9d9d"/><rect x="24.71" y="257.30" width="1" height="7.25" fill="#9d9d9d"/><rect x="33.27" y="257.30" width="1" height="7.25" fill="#9d9d9d"/><rect x="41.84" y="257.30" width="1" height="7.25" fill="#9d9d9d"/><rect x="50.41" y="257.30" width="1" height="7.25" fill="#9d9d9d"/><rect x="58.98" y="257.30" width="1" height="7.25" fill="#9d9d9d"/><rect x="67.55" y="257.30" width="1" height="7.25" fill="#9d9d9d"/><rect x="76.12" y="257.30" width="1" height="7.25" fill="#9d9d9d"/><rect x="84.69" y="257.30" width="1" height="7.25" fill="#9d9d9d"/><rect x="93.26" y="257.30" width="1" height="7.25" fill="#9d9d9d"/><rect x="101.82" y="257.30" width="1" height="7.25" fill="#9d9d9d"/><rect x="110.39" y="257.30" width="1" height="7.25" fill="#9d9d9d"/><rect x="118.96" y="257.30" width="1" height="7.25" fill="#9d9d9d"/><rect x="127.53" y="257.30" width="1" height="7.25" fill="#9d9d9d"/><rect x="136.10" y="257.30" width="1" height="7.25" fill="#9d9d9d"/><rect x="144.67" y="257.30" width="1" height="7.25" fill="#9d9d9d"/><rect x="153.24" y="257.30" width="1" height="7.25" fill="#9d9d9d"/><rect x="161.81" y="257.30" width="1" height="7.25" fill="#9d9d9d"/><rect x="170.38" y="257.30" width="1" height="7.25" fill="#9d9d9d"/><rect x="178.94" y="257.30" width="1" height="7.25" fill="#9d9d9d"/><rect x="187.51" y="257.30" width="1" height="7.25" fill="#9d9d9d"/><rect x="196.08" y="257.30" width="1" height="7.25" fill="#9d9d9d"/><rect x="204.65" y="257.30" width="1" height="7.25" fill="#9d9d9d"/><rect x="213.22" y="257.30" width="1" height="7.25" fill="#9d9d9d"/><rect x="221.79" y="257.30" width="1" height="7.25" fill="#9d9d9d"/><rect x="230.36" y="257.30" width="1" height="7.25" fill="#9d9d9d"/><rect x="238.92" y="257.30" width="1" height="7.25" fill="#9d9d9d"/><rect x="247.49" y="257.30" width="1" height="7.25" fill="#9d9d9d"/><rect x="256.06" y="257.30" width="1" height="7.25" fill="#9d9d9d"/><rect x="264.63" y="257.30" width="1" height="7.25" fill="#9d9d9d"/><rect x="273.20" y="257.30" width="1" height="7.25" fill="#9d9d9d"/><rect x="281.77" y="257.30" width="1" height="7.25" fill="#9d9d9d"/><rect x="290.34" y="257.30" width="1" height="7.25" fill="#9d9d9d"/><rect x="298.91" y="257.30" width="1" height="7.25" fill="#9d9d9d"/><rect x="307.47" y="257.30" width="1" height="7.25" fill="#9d9d9d"/><rect x="316.04" y="257.30" width="1" height="7.25" fill="#9d9d9d"/><rect x="324.61" y="257.30" width="1" height="7.25" fill="#9d9d9d"/><rect x="333.18" y="257.30" width="1" height="7.25" fill="#9d9d9d"/><rect x="341.75" y="257.30" width="1" height="7.25" fill="#9d9d9d"/><rect x="350.32" y="257.30" width="1" height="7.25" fill="#9d9d9d"/><rect x="358.89" y="257.30" width="1" height="7.25" fill="#9d9d9d"/><rect x="367.46" y="257.30" width="1" height="7.25" fill="#9d9d9d"/><rect x="376.02" y="257.30" width="1" height="7.25" fill="#9d9d9d"/><rect x="384.59" y="257.30" width="1" height="7.25" fill="#9d9d9d"/><rect x="393.16" y="257.30" width="1" height="7.25" fill="#9d9d9d"/><rect x="401.73" y="257.30" width="1" height="7.25" fill="#9d9d9d"/><rect x="410.30" y="257.30" width="1" height="7.25" fill="#9d9d9d"/><rect x="0" y="263.85" width="411.30" height="0.7" fill="#9d9d9d"/><rect x="0" y="264.55" width="411.30" height="8.35" fill="#ff9900"/><rect x="0" y="272.85" width="411.30" height="7.34" fill="#b2b2b2"/><rect x="7.57" y="272.85" width="1" height="7.29" fill="#9d9d9d"/><rect x="16.14" y="272.85" width="1" height="7.29" fill="#9d9d9d"/><rect x="24.71" y="272.85" width="1" height="7.29" fill="#9d9d9d"/><rect x="33.27" y="272.85" width="1" height="7.29" fill="#9d9d9d"/><rect x="41.84" y="272.85" width="1" height="7.29" fill="#9d9d9d"/><rect x="50.41" y="272.85" width="1" height="7.29" fill="#9d9d9d"/><rect x="58.98" y="272.85" width="1" height="7.29" fill="#9d9d9d"/><rect x="67.55" y="272.85" width="1" height="7.29" fill="#9d9d9d"/><rect x="76.12" y="272.85" width="1" height="7.29" fill="#9d9d9d"/><rect x="84.69" y="272.85" width="1" height="7.29" fill="#9d9d9d"/><rect x="93.26" y="272.85" width="1" height="7.29" fill="#9d9d9d"/><rect x="101.82" y="272.85" width="1" height="7.29" fill="#9d9d9d"/><rect x="110.39" y="272.85" width="1" height="7.29" fill="#9d9d9d"/><rect x="118.96" y="272.85" width="1" height="7.29" fill="#9d9d9d"/><rect x="127.53" y="272.85" width="1" height="7.29" fill="#9d9d9d"/><rect x="136.10" y="272.85" width="1" height="7.29" fill="#9d9d9d"/><rect x="144.67" y="272.85" width="1" height="7.29" fill="#9d9d9d"/><rect x="153.24" y="272.85" width="1" height="7.29" fill="#9d9d9d"/><rect x="161.81" y="272.85" width="1" height="7.29" fill="#9d9d9d"/><rect x="170.38" y="272.85" width="1" height="7.29" fill="#9d9d9d"/><rect x="178.94" y="272.85" width="1" height="7.29" fill="#9d9d9d"/><rect x="187.51" y="272.85" width="1" height="7.29" fill="#9d9d9d"/><rect x="196.08" y="272.85" width="1" height="7.29" fill="#9d9d9d"/><rect x="204.65" y="272.85" width="1" height="7.29" fill="#9d9d9d"/><rect x="213.22" y="272.85" width="1" height="7.29" fill="#9d9d9d"/><rect x="221.79" y="272.85" width="1" height="7.29" fill="#9d9d9d"/><rect x="230.36" y="272.85" width="1" height="7.29" fill="#9d9d9d"/><rect x="238.92" y="272.85" width="1" height="7.29" fill="#9d9d9d"/><rect x="247.49" y="272.85" width="1" height="7.29" fill="#9d9d9d"/><rect x="256.06" y="272.85" width="1" height="7.29" fill="#9d9d9d"/><rect x="264.63" y="272.85" width="1" height="7.29" fill="#9d9d9d"/><rect x="273.20" y="272.85" width="1" height="7.29" fill="#9d9d9d"/><rect x="281.77" y="272.85" width="1" height="7.29" fill="#9d9d9d"/><rect x="290.34" y="272.85" width="1" height="7.29" fill="#9d9d9d"/><rect x="298.91" y="272.85" width="1" height="7.29" fill="#9d9d9d"/><rect x="307.47" y="272.85" width="1" height="7.29" fill="#9d9d9d"/><rect x="316.04" y="272.85" width="1" height="7.29" fill="#9d9d9d"/><rect x="324.61" y="272.85" width="1" height="7.29" fill="#9d9d9d"/><rect x="333.18" y="272.85" width="1" height="7.29" fill="#9d9d9d"/><rect x="341.75" y="272.85" width="1" height="7.29" fill="#9d9d9d"/><rect x="350.32" y="272.85" width="1" height="7.29" fill="#9d9d9d"/><rect x="358.89" y="272.85" width="1" height="7.29" fill="#9d9d9d"/><rect x="367.46" y="272.85" width="1" height="7.29" fill="#9d9d9d"/><rect x="376.02" y="272.85" width="1" height="7.29" fill="#9d9d9d"/><rect x="384.59" y="272.85" width="1" height="7.29" fill="#9d9d9d"/><rect x="393.16" y="272.85" width="1" height="7.29" fill="#9d9d9d"/><rect x="401.73" y="272.85" width="1" height="7.29" fill="#9d9d9d"/><rect x="410.30" y="272.85" width="1" height="7.29" fill="#9d9d9d"/><rect x="0" y="279.44" width="411.30" height="0.7" fill="#9d9d9d"/><rect x="0" y="280.14" width="411.30" height="8.11" fill="#00ff00"/><rect x="0" y="288.20" width="411.30" height="8.11" fill="#ffff00"/><rect x="0" y="296.26" width="411.30" height="7.78" fill="#ff0000"/><rect x="0" y="303.99" width="411.30" height="7.30" fill="#c7c7c7"/><rect x="7.57" y="303.99" width="1" height="7.25" fill="#a6a6a6"/><rect x="16.14" y="303.99" width="1" height="7.25" fill="#a6a6a6"/><rect x="24.71" y="303.99" width="1" height="7.25" fill="#a6a6a6"/><rect x="33.27" y="303.99" width="1" height="7.25" fill="#a6a6a6"/><rect x="41.84" y="303.99" width="1" height="7.25" fill="#a6a6a6"/><rect x="50.41" y="303.99" width="1" height="7.25" fill="#a6a6a6"/><rect x="58.98" y="303.99" width="1" height="7.25" fill="#a6a6a6"/><rect x="67.55" y="303.99" width="1" height="7.25" fill="#a6a6a6"/><rect x="76.12" y="303.99" width="1" height="7.25" fill="#a6a6a6"/><rect x="84.69" y="303.99" width="1" height="7.25" fill="#a6a6a6"/><rect x="93.26" y="303.99" width="1" height="7.25" fill="#a6a6a6"/><rect x="101.82" y="303.99" width="1" height="7.25" fill="#a6a6a6"/><rect x="110.39" y="303.99" width="1" height="7.25" fill="#a6a6a6"/><rect x="118.96" y="303.99" width="1" height="7.25" fill="#a6a6a6"/><rect x="127.53" y="303.99" width="1" height="7.25" fill="#a6a6a6"/><rect x="136.10" y="303.99" width="1" height="7.25" fill="#a6a6a6"/><rect x="144.67" y="303.99" width="1" height="7.25" fill="#a6a6a6"/><rect x="153.24" y="303.99" width="1" height="7.25" fill="#a6a6a6"/><rect x="161.81" y="303.99" width="1" height="7.25" fill="#a6a6a6"/><rect x="170.38" y="303.99" width="1" height="7.25" fill="#a6a6a6"/><rect x="178.94" y="303.99" width="1" height="7.25" fill="#a6a6a6"/><rect x="187.51" y="303.99" width="1" height="7.25" fill="#a6a6a6"/><rect x="196.08" y="303.99" width="1" height="7.25" fill="#a6a6a6"/><rect x="204.65" y="303.99" width="1" height="7.25" fill="#a6a6a6"/><rect x="213.22" y="303.99" width="1" height="7.25" fill="#a6a6a6"/><rect x="221.79" y="303.99" width="1" height="7.25" fill="#a6a6a6"/><rect x="230.36" y="303.99" width="1" height="7.25" fill="#a6a6a6"/><rect x="238.92" y="303.99" width="1" height="7.25" fill="#a6a6a6"/><rect x="247.49" y="303.99" width="1" height="7.25" fill="#a6a6a6"/><rect x="256.06" y="303.99" width="1" height="7.25" fill="#a6a6a6"/><rect x="264.63" y="303.99" width="1" height="7.25" fill="#a6a6a6"/><rect x="273.20" y="303.99" width="1" height="7.25" fill="#a6a6a6"/><rect x="281.77" y="303.99" width="1" height="7.25" fill="#a6a6a6"/><rect x="290.34" y="303.99" width="1" height="7.25" fill="#a6a6a6"/><rect x="298.91" y="303.99" width="1" height="7.25" fill="#a6a6a6"/><rect x="307.47" y="303.99" width="1" height="7.25" fill="#a6a6a6"/><rect x="316.04" y="303.99" width="1" height="7.25" fill="#a6a6a6"/><rect x="324.61" y="303.99" width="1" height="7.25" fill="#a6a6a6"/><rect x="333.18" y="303.99" width="1" height="7.25" fill="#a6a6a6"/><rect x="341.75" y="303.99" width="1" height="7.25" fill="#a6a6a6"/><rect x="350.32" y="303.99" width="1" height="7.25" fill="#a6a6a6"/><rect x="358.89" y="303.99" width="1" height="7.25" fill="#a6a6a6"/><rect x="367.46" y="303.99" width="1" height="7.25" fill="#a6a6a6"/><rect x="376.02" y="303.99" width="1" height="7.25" fill="#a6a6a6"/><rect x="384.59" y="303.99" width="1" height="7.25" fill="#a6a6a6"/><rect x="393.16" y="303.99" width="1" height="7.25" fill="#a6a6a6"/><rect x="401.73" y="303.99" width="1" height="7.25" fill="#a6a6a6"/><rect x="410.30" y="303.99" width="1" height="7.25" fill="#a6a6a6"/><rect x="0" y="310.54" width="411.30" height="0.7" fill="#a6a6a6"/><rect x="0" y="311.24" width="411.30" height="8.35" fill="#ff9900"/><rect x="0" y="319.54" width="411.30" height="7.34" fill="#c7c7c7"/><rect x="7.57" y="319.54" width="1" height="7.29" fill="#a6a6a6"/><rect x="16.14" y="319.54" width="1" height="7.29" fill="#a6a6a6"/><rect x="24.71" y="319.54" width="1" height="7.29" fill="#a6a6a6"/><rect x="33.27" y="319.54" width="1" height="7.29" fill="#a6a6a6"/><rect x="41.84" y="319.54" width="1" height="7.29" fill="#a6a6a6"/><rect x="50.41" y="319.54" width="1" height="7.29" fill="#a6a6a6"/><rect x="58.98" y="319.54" width="1" height="7.29" fill="#a6a6a6"/><rect x="67.55" y="319.54" width="1" height="7.29" fill="#a6a6a6"/><rect x="76.12" y="319.54" width="1" height="7.29" fill="#a6a6a6"/><rect x="84.69" y="319.54" width="1" height="7.29" fill="#a6a6a6"/><rect x="93.26" y="319.54" width="1" height="7.29" fill="#a6a6a6"/><rect x="101.82" y="319.54" width="1" height="7.29" fill="#a6a6a6"/><rect x="110.39" y="319.54" width="1" height="7.29" fill="#a6a6a6"/><rect x="118.96" y="319.54" width="1" height="7.29" fill="#a6a6a6"/><rect x="127.53" y="319.54" width="1" height="7.29" fill="#a6a6a6"/><rect x="136.10" y="319.54" width="1" height="7.29" fill="#a6a6a6"/><rect x="144.67" y="319.54" width="1" height="7.29" fill="#a6a6a6"/><rect x="153.24" y="319.54" width="1" height="7.29" fill="#a6a6a6"/><rect x="161.81" y="319.54" width="1" height="7.29" fill="#a6a6a6"/><rect x="170.38" y="319.54" width="1" height="7.29" fill="#a6a6a6"/><rect x="178.94" y="319.54" width="1" height="7.29" fill="#a6a6a6"/><rect x="187.51" y="319.54" width="1" height="7.29" fill="#a6a6a6"/><rect x="196.08" y="319.54" width="1" height="7.29" fill="#a6a6a6"/><rect x="204.65" y="319.54" width="1" height="7.29" fill="#a6a6a6"/><rect x="213.22" y="319.54" width="1" height="7.29" fill="#a6a6a6"/><rect x="221.79" y="319.54" width="1" height="7.29" fill="#a6a6a6"/><rect x="230.36" y="319.54" width="1" height="7.29" fill="#a6a6a6"/><rect x="238.92" y="319.54" width="1" height="7.29" fill="#a6a6a6"/><rect x="247.49" y="319.54" width="1" height="7.29" fill="#a6a6a6"/><rect x="256.06" y="319.54" width="1" height="7.29" fill="#a6a6a6"/><rect x="264.63" y="319.54" width="1" height="7.29" fill="#a6a6a6"/><rect x="273.20" y="319.54" width="1" height="7.29" fill="#a6a6a6"/><rect x="281.77" y="319.54" width="1" height="7.29" fill="#a6a6a6"/><rect x="290.34" y="319.54" width="1" height="7.29" fill="#a6a6a6"/><rect x="298.91" y="319.54" width="1" height="7.29" fill="#a6a6a6"/><rect x="307.47" y="319.54" width="1" height="7.29" fill="#a6a6a6"/><rect x="316.04" y="319.54" width="1" height="7.29" fill="#a6a6a6"/><rect x="324.61" y="319.54" width="1" height="7.29" fill="#a6a6a6"/><rect x="333.18" y="319.54" width="1" height="7.29" fill="#a6a6a6"/><rect x="341.75" y="319.54" width="1" height="7.29" fill="#a6a6a6"/><rect x="350.32" y="319.54" width="1" height="7.29" fill="#a6a6a6"/><rect x="358.89" y="319.54" width="1" height="7.29" fill="#a6a6a6"/><rect x="367.46" y="319.54" width="1" height="7.29" fill="#a6a6a6"/><rect x="376.02" y="319.54" width="1" height="7.29" fill="#a6a6a6"/><rect x="384.59" y="319.54" width="1" height="7.29" fill="#a6a6a6"/><rect x="393.16" y="319.54" width="1" height="7.29" fill="#a6a6a6"/><rect x="401.73" y="319.54" width="1" height="7.29" fill="#a6a6a6"/><rect x="410.30" y="319.54" width="1" height="7.29" fill="#a6a6a6"/><rect x="0" y="326.13" width="411.30" height="0.7" fill="#a6a6a6"/></svg>
<div class="lbl" style="left:190px;top:137.20px;width:31px;text-align:right">Sun</div>
<div class="btn" style="left:649.4px;top:138.00px;width:54.6px;height:20.5px;line-height:22px"><span>Setup</span></div>
<div class="lbl" style="left:190px;top:183.89px;width:31px;text-align:right">Mon</div>
<div class="btn" style="left:649.4px;top:184.80px;width:54.6px;height:20.5px;line-height:22px"><span>Setup</span></div>
<div class="lbl" style="left:190px;top:230.58px;width:31px;text-align:right">Tue</div>
<div class="btn" style="left:649.4px;top:231.60px;width:54.6px;height:20.5px;line-height:22px"><span>Setup</span></div>
<div class="lbl" style="left:190px;top:277.27px;width:31px;text-align:right">Wed</div>
<div class="btn" style="left:649.4px;top:278.40px;width:54.6px;height:20.5px;line-height:22px"><span>Setup</span></div>
<div class="lbl" style="left:190px;top:323.96px;width:31px;text-align:right">Thu</div>
<div class="btn" style="left:649.4px;top:325.20px;width:54.6px;height:20.5px;line-height:22px"><span>Setup</span></div>
<div class="lbl" style="left:190px;top:370.65px;width:31px;text-align:right">Fri</div>
<div class="btn" style="left:649.4px;top:372.00px;width:54.6px;height:20.5px;line-height:22px"><span>Setup</span></div>
<div class="lbl" style="left:190px;top:417.34px;width:31px;text-align:right">Sat</div>
<div class="btn" style="left:649.4px;top:418.80px;width:54.6px;height:20.5px;line-height:22px"><span>Setup</span></div>
<div class="btn" style="left:258.4px;top:461.1px;width:82.5px"><span>Copy</span></div>
<div class="btn" style="left:344.9px;top:461.1px;width:82.5px"><span>OK</span></div>
<div class="btn" style="left:431.4px;top:461.1px;width:82.5px"><span>Refresh</span></div>
<div class="btn" style="left:517.9px;top:461.1px;width:82.5px"><span>Default</span></div>
</body></html>
